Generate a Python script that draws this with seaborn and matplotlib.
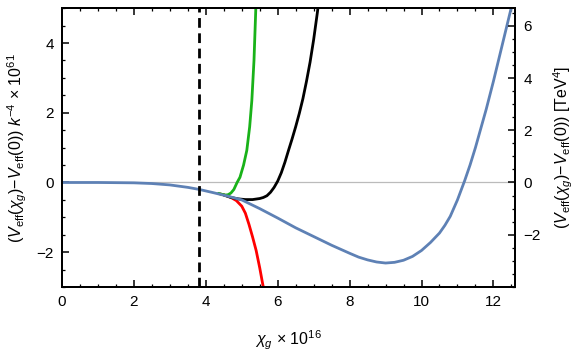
import numpy as np
import pandas as pd
import matplotlib
matplotlib.use("Agg")
import matplotlib.pyplot as plt
import seaborn as sns

# style
sns.set_style("ticks", {'axes.edgecolor': 'black', 'xtick.color': 'black',
                        'ytick.color': 'black', 'text.color': 'black',
                        'axes.labelcolor': 'black'})
plt.rcParams['font.family'] = ['Liberation Sans', 'DejaVu Sans']
plt.rcParams['mathtext.fontset'] = 'custom'
plt.rcParams['mathtext.rm'] = 'Liberation Sans'
plt.rcParams['mathtext.it'] = 'Liberation Sans:italic'

# colours
c_blue = '#5E81B5'
c_green = '#19B219'
c_black = '#000000'
c_red = '#FF0000'

# data (x in units of 1e16)
blue_x = [0, 1, 1.5, 2, 2.5, 3, 3.5, 3.82, 4.2, 4.6, 5, 5.5, 6, 6.5, 7, 7.5, 8,
          8.25, 8.5, 8.75, 9, 9.25, 9.5, 9.75, 10, 10.25, 10.5, 10.65, 10.8,
          11, 11.2, 11.35, 11.5, 11.8, 12, 12.2, 12.4, 12.6]
blue_y = [0, 0, -0.005, -0.01, -0.03, -0.07, -0.14, -0.2, -0.29, -0.39, -0.5,
          -0.75, -1.02, -1.3, -1.55, -1.8, -2.03, -2.14, -2.22, -2.28, -2.31,
          -2.29, -2.23, -2.12, -1.95, -1.72, -1.45, -1.23, -0.97, -0.5, 0.05,
          0.5, 1.0, 2.1, 2.9, 3.75, 4.6, 5.45]

green_x = [4.35, 4.45, 4.55, 4.62, 4.7, 4.78, 4.87, 4.95, 5.05, 5.14, 5.22,
           5.28, 5.34, 5.39, 5.41]
green_y = [-0.31, -0.34, -0.36, -0.35, -0.3, -0.2, 0, 0.15, 0.5, 0.92, 1.6,
           2.35, 3.5, 4.97, 5.3]

black_x = [4.5, 4.7, 4.9, 5.1, 5.3, 5.5, 5.6, 5.7, 5.8, 5.9, 6.0, 6.1, 6.2,
           6.3, 6.4, 6.5, 6.6, 6.7, 6.8, 6.9, 7.0, 7.1, 7.15]
black_y = [-0.36, -0.43, -0.47, -0.49, -0.49, -0.46, -0.43, -0.38, -0.28,
           -0.14, 0.04, 0.28, 0.58, 0.92, 1.25, 1.6, 1.98, 2.4, 2.9, 3.45,
           4.1, 4.85, 5.25]

red_x = [4.4, 4.55, 4.7, 4.85, 5.0, 5.1, 5.2, 5.3, 5.4, 5.5, 5.58, 5.62]
red_y = [-0.33, -0.37, -0.43, -0.52, -0.68, -0.88, -1.2, -1.56, -1.95, -2.45,
         -2.9, -3.1]

chi_crit = 3.82
right_scale = 1.336  # TeV^4 per left-axis unit

fig = plt.figure(figsize=(5.77, 3.54), dpi=100)
ax = fig.add_axes([0.1075, 0.189, 0.785, 0.788])

ax.axhline(0, color='#BBBBBB', lw=0.9, zorder=0)

curves = [(red_x, red_y, c_red), (black_x, black_y, c_black),
          (green_x, green_y, c_green), (blue_x, blue_y, c_blue)]
for xs, ys, col in curves:
    df = pd.DataFrame({'x': xs, 'y': ys})
    sns.lineplot(data=df, x='x', y='y', color=col, lw=2.0, sort=False, ax=ax)

ax.axvline(chi_crit, color='black', lw=2.0, ls=(0, (3.5, 2)))

ax.set_xlim(0, 12.6)
ax.set_ylim(-3, 5)
ax.set_xticks([0, 2, 4, 6, 8, 10, 12])
ax.set_yticks([-2, 0, 2, 4])
ax.set_xticks(np.arange(0, 12.6, 0.5), minor=True)
ax.set_yticks(np.arange(-3, 5.01, 0.5), minor=True)
ax.tick_params(which='major', direction='in', length=5, width=1.1,
               top=True, labelsize=11, pad=6)
ax.tick_params(which='minor', direction='in', length=2.5, width=0.9, top=True)
for sp in ax.spines.values():
    sp.set_linewidth(1.4)

ax.set_xlabel(r'$\chi_g$ $\times$ 10$^{16}$', fontsize=11.5, labelpad=14)
ax.set_ylabel(r'($V_{\mathrm{eff}}(\chi_g)$$-$$V_{\mathrm{eff}}(0)$) $k^{-4}$ $\times$ 10$^{61}$',
              fontsize=11.5, labelpad=5)

ax2 = ax.twinx()
ax2.set_ylim(-3 * right_scale, 5 * right_scale)
ax2.set_yticks([-2, 0, 2, 4, 6])
ax2.set_yticks(np.arange(-4, 6.7, 0.5), minor=True)
ax2.tick_params(which='major', direction='in', length=5, width=1.1,
                labelsize=11, pad=6)
ax2.tick_params(which='minor', direction='in', length=2.5, width=0.9)
for sp in ax2.spines.values():
    sp.set_linewidth(1.4)
ax2.set_ylabel(r'($V_{\mathrm{eff}}(\chi_g)$$-$$V_{\mathrm{eff}}(0)$) [TeV$^4$]',
               fontsize=11.5, labelpad=8)

fig.savefig('out.png', dpi=100)
